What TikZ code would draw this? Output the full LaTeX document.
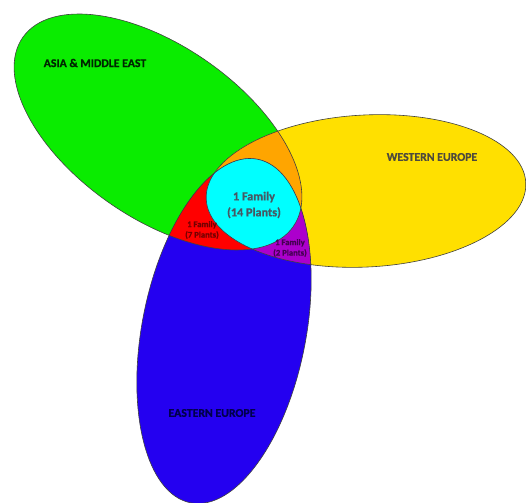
\documentclass[tikz,border=0pt]{standalone}
\usepackage{fontspec}
\setmainfont{Carlito}[BoldFont={Carlito Bold}, BoldFeatures={FakeBold=0.8}]
\definecolor{cG}{RGB}{10,236,0}
\definecolor{cY}{RGB}{255,224,0}
\definecolor{cB}{RGB}{36,0,240}
\definecolor{cO}{RGB}{255,165,0}
\definecolor{cR}{RGB}{255,0,0}
\definecolor{cC}{RGB}{0,255,255}
\definecolor{cP}{RGB}{172,0,204}
\newcommand{\pathG}{[rotate around={-35:(158,370)}] (158,370) ellipse [x radius=165, y radius=86]}
\newcommand{\pathY}{[rotate around={3:(366,311)}] (366,311) ellipse [x radius=160, y radius=76]}
\newcommand{\pathB}{[rotate around={-11:(224,171)}] (224,171) ellipse [x radius=82, y radius=175]}
\begin{document}
\begin{tikzpicture}[x=1pt,y=1pt,
  outline/.style={draw=black!75, line width=0.6pt},
  bigtext/.style={font=\bfseries\fontsize{11.8}{14}\selectfont},
  midtext/.style={font=\bfseries\fontsize{12.2}{16}\selectfont, align=center},
  smalltext/.style={font=\bfseries\fontsize{8.6}{10.5}\selectfont, align=center}]
\useasboundingbox (0,0) rectangle (526,502);
\begin{scope}
\clip (0,0) rectangle (526,502);
\fill[cG] \pathG;
\fill[cY] \pathY;
\fill[cB] \pathB;
\begin{scope}\clip \pathG; \fill[cO] \pathY; \end{scope}
\begin{scope}\clip \pathG; \fill[cR] \pathB; \end{scope}
\begin{scope}\clip \pathY; \fill[cP] \pathB; \end{scope}
\begin{scope}\clip \pathG; \clip \pathY; \fill[cC] \pathB; \end{scope}
\draw[outline] \pathG;
\draw[outline] \pathY;
\draw[outline] \pathB;
\end{scope}
\node[bigtext, text=black!85!green] (asia) at (95,439) {ASIA \& MIDDLE EAST};
\node[bigtext, text=black!80!yellow] (west) at (432,345) {WESTERN EUROPE};
\node[bigtext, text=black!70!blue] (east) at (212,89) {EASTERN EUROPE};
\node[midtext, text=black!70!cyan] (all) at (254,297) {1 Family\\(14 Plants)};
\node[smalltext, text=black!55!red] (gb) at (202,272) {1 Family\\(7 Plants)};
\node[smalltext, text=black!60!cP] (yb) at (290,254) {1 Family\\(2 Plants)};
\end{tikzpicture}
\end{document}
